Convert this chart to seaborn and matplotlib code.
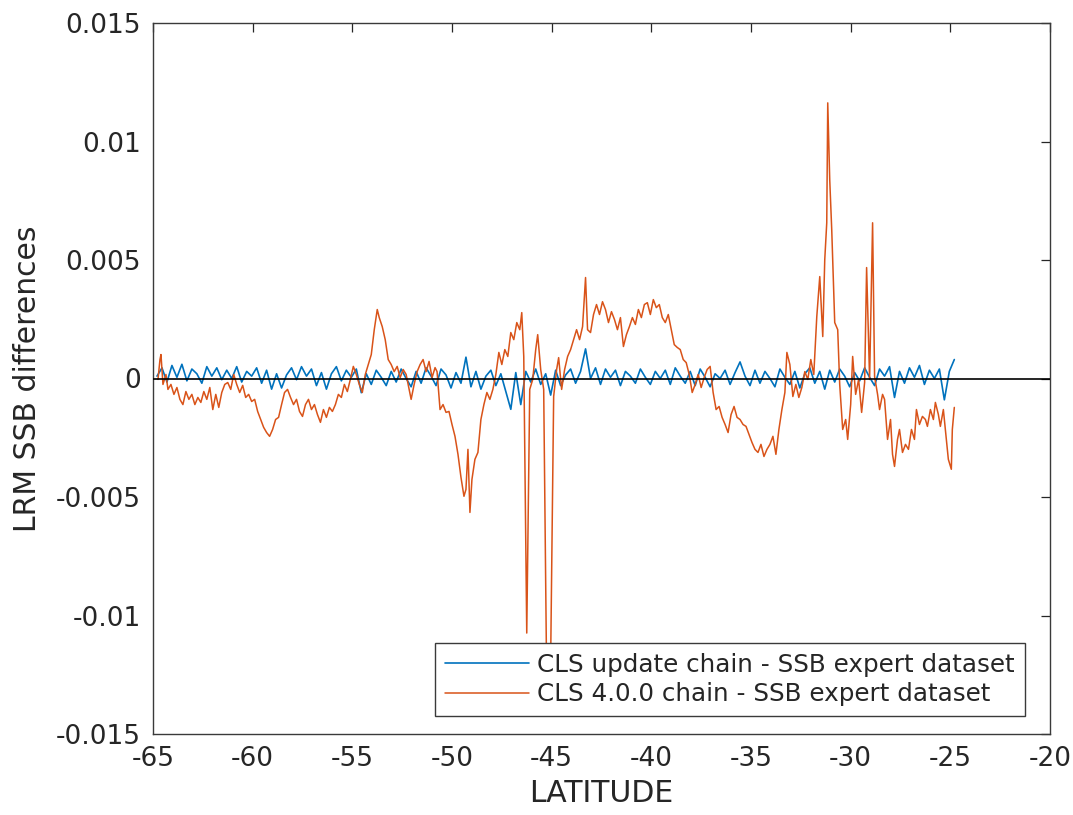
import numpy as np
import pandas as pd
import matplotlib
matplotlib.use("Agg")
import matplotlib.pyplot as plt
from matplotlib.ticker import FuncFormatter
import seaborn as sns

# ---------------- data (values in units of 1e-3 m) ----------------
blue_lat = [
    -64.80, -64.55, -64.30, -64.05, -63.80, -63.55, -63.30, -63.05, -62.80, -62.55,
    -62.30, -62.05, -61.80, -61.55, -61.30, -61.05, -60.80, -60.55, -60.30, -60.05,
    -59.80, -59.55, -59.30, -59.05, -58.80, -58.55, -58.30, -58.05, -57.80, -57.55,
    -57.30, -57.05, -56.80, -56.55, -56.30, -56.05, -55.80, -55.55, -55.30, -55.05,
    -54.80, -54.55, -54.30, -54.05, -53.80, -53.55, -53.30, -53.05, -52.80, -52.55,
    -52.30, -52.05, -51.80, -51.55, -51.30, -51.05, -50.80, -50.55, -50.30, -50.05,
    -49.80, -49.55, -49.30, -49.05, -48.80, -48.55, -48.30, -48.05, -47.80, -47.55,
    -47.30, -47.05, -46.80, -46.55, -46.30, -46.05, -45.80, -45.55, -45.30, -45.05,
    -44.80, -44.55, -44.30, -44.05, -43.80, -43.55, -43.30, -43.05, -42.80, -42.55,
    -42.30, -42.05, -41.80, -41.55, -41.30, -41.05, -40.80, -40.55, -40.30, -40.05,
    -39.80, -39.55, -39.30, -39.05, -38.80, -38.55, -38.30, -38.05, -37.80, -37.55,
    -37.30, -37.05, -36.80, -36.55, -36.30, -36.05, -35.80, -35.55, -35.30, -35.05,
    -34.80, -34.55, -34.30, -34.05, -33.80, -33.55, -33.30, -33.05, -32.80, -32.55,
    -32.30, -32.05, -31.80, -31.55, -31.30, -31.05, -30.80, -30.55, -30.30, -30.05,
    -29.80, -29.55, -29.30, -29.05, -28.80, -28.55, -28.30, -28.05, -27.80, -27.55,
    -27.30, -27.05, -26.80, -26.55, -26.30, -26.05, -25.80, -25.55, -25.30, -25.05,
    -24.80,
]
blue_milli = [
    0.10, 0.45, -0.15, 0.55, 0.05, 0.60, -0.10, 0.40, 0.20, -0.20,
    0.50, 0.10, 0.45, -0.05, 0.35, 0.00, 0.50, -0.15, 0.30, 0.10,
    0.45, -0.20, 0.35, -0.45, 0.20, -0.40, 0.15, 0.45, -0.05, 0.50,
    0.10, 0.40, -0.30, 0.25, -0.45, 0.20, 0.50, -0.10, 0.35, 0.05,
    0.40, -0.60, 0.20, -0.25, 0.35, 0.05, -0.30, 0.30, -0.15, 0.40,
    0.00, -0.35, 0.30, -0.20, 0.45, 0.10, -0.30, 0.40, 0.15, -0.40,
    0.25, -0.20, 0.90, -0.35, 0.30, -0.45, 0.10, 0.35, -0.30, 0.20,
    -0.55, -1.30, 0.25, -1.10, 0.30, -0.15, 0.40, -0.25, 0.20, -0.70,
    0.35, -0.30, 0.15, 0.40, -0.20, 0.30, 1.25, 0.00, 0.45, -0.25,
    0.40, 0.05, 0.35, -0.30, 0.30, 0.10, -0.20, 0.40, 0.05, -0.25,
    0.30, 0.00, 0.35, -0.25, 0.45, 0.10, -0.20, 0.30, -0.30, 0.40,
    0.05, -0.35, 0.20, 0.00, 0.35, -0.25, 0.25, 0.70, 0.10, -0.30,
    0.35, -0.20, 0.30, 0.00, -0.35, 0.40, 0.05, -0.25, 0.30, -0.40,
    0.20, 0.45, -0.20, 0.30, -0.45, 0.35, -0.15, 0.40, 0.10, -0.35,
    0.25, -0.10, 0.45, 0.05, -0.30, 0.40, 0.10, 0.50, -0.80, 0.30,
    -0.20, 0.45, 0.05, 0.55, -0.25, 0.35, 0.00, 0.40, -0.90, 0.30,
    0.80,
]

orange_lat = [
    -64.75, -64.65, -64.60, -64.50, -64.35, -64.25, -64.10, -63.95, -63.80, -63.65,
    -63.50, -63.35, -63.20, -63.05, -62.90, -62.75, -62.60, -62.45, -62.30, -62.15,
    -62.00, -61.85, -61.70, -61.55, -61.40, -61.25, -61.10, -60.95, -60.80, -60.65,
    -60.50, -60.35, -60.20, -60.05, -59.90, -59.75, -59.60, -59.45, -59.30, -59.15,
    -59.00, -58.85, -58.70, -58.55, -58.40, -58.25, -58.10, -57.95, -57.80, -57.65,
    -57.50, -57.35, -57.20, -57.05, -56.90, -56.75, -56.60, -56.45, -56.30, -56.15,
    -56.00, -55.85, -55.70, -55.55, -55.40, -55.25, -55.10, -54.95, -54.80, -54.65,
    -54.50, -54.35, -54.20, -54.05, -53.90, -53.75, -53.65, -53.50, -53.35, -53.20,
    -53.05, -52.90, -52.75, -52.60, -52.45, -52.30, -52.15, -52.05, -51.90, -51.75,
    -51.60, -51.45, -51.30, -51.15, -51.00, -50.85, -50.75, -50.60, -50.45, -50.30,
    -50.15, -50.00, -49.85, -49.70, -49.55, -49.40, -49.30, -49.20, -49.10, -49.00,
    -48.85, -48.70, -48.55, -48.40, -48.25, -48.10, -47.95, -47.80, -47.65, -47.50,
    -47.35, -47.20, -47.05, -46.90, -46.75, -46.60, -46.50, -46.40, -46.25, -46.10,
    -45.95, -45.80, -45.70, -45.55, -45.40, -45.25, -45.15, -45.05, -44.90, -44.75,
    -44.65, -44.50, -44.35, -44.20, -44.05, -43.90, -43.75, -43.60, -43.45, -43.30,
    -43.20, -43.05, -42.90, -42.75, -42.60, -42.45, -42.30, -42.15, -42.00, -41.85,
    -41.70, -41.55, -41.40, -41.25, -41.10, -40.95, -40.80, -40.65, -40.50, -40.35,
    -40.20, -40.05, -39.90, -39.75, -39.60, -39.45, -39.30, -39.15, -39.00, -38.85,
    -38.70, -38.55, -38.40, -38.25, -38.10, -37.95, -37.80, -37.65, -37.50, -37.35,
    -37.20, -37.05, -36.90, -36.75, -36.60, -36.45, -36.30, -36.15, -36.00, -35.85,
    -35.70, -35.55, -35.40, -35.25, -35.10, -34.95, -34.80, -34.65, -34.50, -34.35,
    -34.20, -34.05, -33.90, -33.75, -33.60, -33.45, -33.30, -33.20, -33.05, -32.90,
    -32.75, -32.60, -32.45, -32.30, -32.15, -32.00, -31.85, -31.70, -31.55, -31.40,
    -31.30, -31.20, -31.15, -31.05, -30.95, -30.80, -30.65, -30.55, -30.40, -30.25,
    -30.15, -30.00, -29.90, -29.75, -29.60, -29.45, -29.30, -29.20, -29.05, -28.90,
    -28.80, -28.65, -28.55, -28.40, -28.30, -28.15, -28.00, -27.90, -27.80, -27.65,
    -27.55, -27.40, -27.25, -27.10, -26.95, -26.80, -26.70, -26.55, -26.40, -26.25,
    -26.15, -26.00, -25.85, -25.75, -25.60, -25.50, -25.35, -25.25, -25.10, -24.95,
    -24.90, -24.80,
]
orange_milli = [
    -0.04, 0.80, 1.01, -0.25, 0.17, -0.46, -0.25, -0.67, -0.38, -0.88,
    -1.10, -0.55, -0.88, -0.67, -1.10, -0.80, -1.01, -0.55, -0.88, -0.38,
    -1.31, -0.67, -1.22, -0.59, -0.25, -0.17, -0.46, 0.17, -0.25, -0.59,
    -0.29, -0.80, -0.67, -0.97, -0.88, -1.39, -1.73, -2.06, -2.28, -2.44,
    -2.15, -1.73, -1.64, -1.10, -0.59, -0.46, -0.80, -1.10, -0.88, -1.39,
    -1.60, -1.10, -0.88, -1.31, -1.10, -1.52, -1.85, -1.31, -1.64, -1.22,
    -1.39, -1.10, -0.67, -0.80, -0.25, -0.55, -0.04, 0.51, 0.17, -0.25,
    -0.59, 0.17, 0.59, 1.01, 2.06, 2.91, 2.57, 2.19, 1.64, 0.80,
    0.59, 0.29, 0.51, 0.04, 0.38, 0.17, -0.46, -0.88, -0.25, 0.29,
    0.59, 0.80, 0.29, 0.72, 0.04, 0.46, 0.29, -1.31, -1.10, -1.43,
    -1.39, -1.94, -2.44, -3.20, -4.17, -4.97, -4.68, -2.99, -5.65, -4.26,
    -3.41, -3.12, -1.73, -1.10, -0.59, -0.88, -0.46, 0.17, 1.10, 0.59,
    1.22, 0.93, 1.94, 1.64, 2.36, 2.06, 2.78, 0.93, -10.74, -0.46,
    -0.04, 1.22, 1.85, 0.38, -0.46, -12.70, -13.10, -11.80, -0.76, 0.38,
    0.88, -0.46, 0.38, 0.93, 1.22, 1.64, 2.06, 1.64, 2.19, 4.26,
    2.06, 1.94, 2.70, 3.12, 2.70, 3.24, 2.91, 2.36, 2.82, 2.49,
    2.06, 2.57, 1.35, 1.85, 2.19, 2.57, 2.28, 2.91, 2.57, 3.12,
    3.20, 2.70, 3.33, 2.99, 3.12, 2.57, 2.36, 2.70, 2.06, 1.43,
    1.31, 1.22, 0.80, 0.67, 0.17, -0.59, -0.25, 0.17, -0.38, 0.04,
    0.38, 0.51, -0.59, -1.31, -1.18, -1.64, -1.94, -2.28, -1.52, -1.18,
    -1.64, -1.73, -1.94, -2.02, -2.36, -2.70, -2.99, -3.12, -2.78, -3.29,
    -2.99, -2.78, -2.44, -3.20, -2.15, -1.31, -0.59, 1.10, 0.59, -0.76,
    -0.25, -0.80, -0.38, 0.29, -0.04, 0.80, 0.17, 2.61, 4.30, 1.77,
    5.01, 6.57, 11.63, 8.38, 6.28, 2.36, 2.06, -0.25, -2.15, -1.73,
    -2.57, -1.10, 0.93, -0.67, -0.04, -1.43, -0.17, 4.68, -0.04, 6.57,
    0.08, -0.67, -1.31, -0.67, -0.88, -2.57, -1.73, -3.20, -3.71, -2.57,
    -2.15, -3.12, -2.78, -2.99, -2.15, -2.57, -1.31, -1.94, -1.60, -1.73,
    -2.02, -1.31, -1.73, -1.01, -1.52, -2.02, -1.31, -2.15, -3.41, -3.83,
    -2.15, -1.22,
]

labels = ["CLS update chain - SSB expert dataset", "CLS 4.0.0 chain - SSB expert dataset"]
x_ticks = [-65, -60, -55, -50, -45, -40, -35, -30, -25, -20]
y_ticks = [-0.015, -0.01, -0.005, 0, 0.005, 0.01, 0.015]

assert len(blue_lat) == len(blue_milli)
assert len(orange_lat) == len(orange_milli)

df_blue = pd.DataFrame({"lat": blue_lat, "val": np.array(blue_milli) * 1e-3})
df_orange = pd.DataFrame({"lat": orange_lat, "val": np.array(orange_milli) * 1e-3})

# ---------------- style ----------------
sns.set_theme(style="white")
plt.rcParams["font.family"] = ["DejaVu Sans"]
plt.rcParams["axes.unicode_minus"] = False

TXT = "#262626"
fig = plt.figure(figsize=(10.73, 8.15), dpi=100)
ax = fig.add_axes([153 / 1073, 1 - 734 / 815, (1050 - 153) / 1073, (734 - 23) / 815])

sns.lineplot(data=df_blue, x="lat", y="val", ax=ax, color="#0072BD", lw=1.2,
             estimator=None, sort=False, label=labels[0])
sns.lineplot(data=df_orange, x="lat", y="val", ax=ax, color="#D95319", lw=1.1,
             estimator=None, sort=False, label=labels[1])
ax.axhline(0, color="black", lw=1.2, zorder=3)

ax.set_xlim(-65, -20)
ax.set_ylim(-0.015, 0.015)
ax.set_xticks(x_ticks)
ax.set_yticks(y_ticks)
ax.xaxis.set_major_formatter(FuncFormatter(lambda v, p: "%g" % v))
ax.yaxis.set_major_formatter(FuncFormatter(lambda v, p: "%g" % round(v, 6)))

ax.tick_params(axis="both", which="both", direction="in", length=6.5, width=0.9,
               colors=TXT, labelsize=19, top=True, right=True, pad=9)
for s in ax.spines.values():
    s.set_color("#3a3a3a")
    s.set_linewidth(1.0)
    s.set_visible(True)

ax.set_xlabel("LATITUDE", fontsize=21.5, color=TXT, labelpad=5)
ax.set_ylabel("LRM SSB differences", fontsize=21.5, color=TXT, labelpad=10)

leg = ax.legend(loc="lower right", bbox_to_anchor=(0.972, 0.025), borderaxespad=0,
                fontsize=17.7, frameon=True, fancybox=False, edgecolor="#3a3a3a",
                handlelength=3.4, handletextpad=0.35, borderpad=0.4, labelspacing=0.22,
                framealpha=1)
leg.get_frame().set_linewidth(1.0)
for t in leg.get_texts():
    t.set_color(TXT)

fig.savefig("out.png", dpi=100)
